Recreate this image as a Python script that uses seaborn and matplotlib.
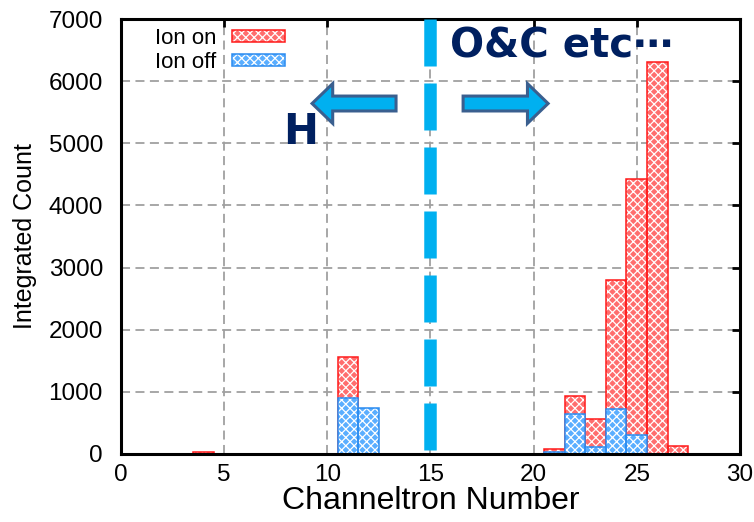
import matplotlib
matplotlib.use("Agg")
import matplotlib.pyplot as plt
from matplotlib.patches import Patch, Rectangle, FancyArrow
import seaborn as sns
import numpy as np

# ---- data ----
channels = [4, 11, 12, 21, 22, 23, 24, 25, 26, 27]
ion_on = [30, 1560, 0, 80, 935, 565, 2800, 4420, 6300, 130]
ion_off = [0, 900, 740, 30, 645, 110, 725, 300, 0, 0]
series_labels = ["Ion on", "Ion off"]
x_ticks = [0, 5, 10, 15, 20, 25, 30]
y_ticks = [0, 1000, 2000, 3000, 4000, 5000, 6000, 7000]

sns.set_style("white")
plt.rcParams["font.family"] = ["Liberation Sans", "DejaVu Sans"]
plt.rcParams["hatch.linewidth"] = 0.9
plt.rcParams["text.color"] = "black"
plt.rcParams["axes.labelcolor"] = "black"

fig = plt.figure(figsize=(7.54, 5.22), dpi=100)
ax = fig.add_axes([0.1605, 0.1303, 0.8209, 0.8333])

red_face, red_edge = "#ff6e6e", "#ff1a1a"
blue_face, blue_edge = "#5aaeff", "#2b8cf0"


def draw_series(values, face, edge):
    n0 = len(ax.patches)
    sns.histplot(x=channels, weights=values, discrete=True, ax=ax,
                 color=face, alpha=1, element="bars")
    new = ax.patches[n0:]
    for p in new:
        p.set_facecolor(face)
        p.set_edgecolor("white")
        p.set_hatch("xxxx")
        p.set_linewidth(0)
        if p.get_height() > 0:
            ax.add_patch(Rectangle(p.get_xy(), p.get_width(), p.get_height(),
                                   fill=False, edgecolor=edge, lw=1.1, zorder=p.get_zorder()))


draw_series(ion_on, red_face, red_edge)
draw_series(ion_off, blue_face, blue_edge)

ax.set_xlim(0, 30)
ax.set_ylim(0, 7000)
ax.set_xticks(x_ticks)
ax.set_yticks(y_ticks)
ax.set_xticklabels([str(t) for t in x_ticks])
ax.set_yticklabels([str(t) for t in y_ticks])

# grid at interior ticks
for xv in x_ticks[1:-1]:
    ax.axvline(xv, color="#a0a0a0", lw=1.3, linestyle=(0, (5, 3)), zorder=0.5)
for yv in y_ticks[1:-1]:
    ax.axhline(yv, color="#a0a0a0", lw=1.3, linestyle=(0, (5, 3)), zorder=0.5)

ax.tick_params(axis="both", direction="in", length=6, width=2, labelsize=17.5,
               top=True, right=True, colors="black")
ax.tick_params(axis="x", pad=7)
ax.tick_params(axis="y", pad=13)
for s in ax.spines.values():
    s.set_visible(True)
    s.set_color("black")
    s.set_linewidth(2.2)

ax.set_xlabel("Channeltron Number", fontsize=23, labelpad=0, color="black")
ax.set_ylabel("Integrated Count", fontsize=18, labelpad=8, color="black")

# thick dashed vertical divider at channel 15
ax.plot([15, 15], [7000, 0], color="#00b0f0", lw=9, solid_capstyle="butt",
        dash_capstyle="butt", linestyle=(0, (3.76, 1.36)), zorder=3)

# arrows
arrow_kw = dict(width=240, head_width=640, head_length=1.0,
                length_includes_head=True, facecolor="#00b0f0",
                edgecolor="#3a5f8f", lw=2.2, zorder=4)
ax.add_patch(FancyArrow(13.33, 5640, 9.26 - 13.33, 0, **arrow_kw))
ax.add_patch(FancyArrow(16.58, 5640, 20.70 - 16.58, 0, **arrow_kw))

ax.text(8.7, 5180, "H", color="#002060", fontsize=30, fontweight="bold",
        ha="center", va="center", family=["DejaVu Sans"], zorder=5)
ax.text(15.95, 6560, "O&C etc\u22ef", color="#002060", fontsize=29, fontweight="bold",
        ha="left", va="center", family=["DejaVu Sans", "Noto Sans CJK JP"], zorder=5)

handles = [
    (Patch(facecolor=red_face, edgecolor="white", hatch="xxxx", lw=0),
     Patch(fill=False, edgecolor=red_edge, lw=1.1)),
    (Patch(facecolor=blue_face, edgecolor="white", hatch="xxxx", lw=0),
     Patch(fill=False, edgecolor=blue_edge, lw=1.1)),
]
leg = ax.legend(handles, series_labels, loc="upper left", bbox_to_anchor=(0.04, 1.0),
                frameon=False, markerfirst=False, fontsize=16, handlelength=2.4,
                handleheight=0.45, handletextpad=0.7, labelspacing=0.15,
                borderaxespad=0)
for t in leg.get_texts():
    t.set_color("black")

fig.savefig("out.png", dpi=100)
